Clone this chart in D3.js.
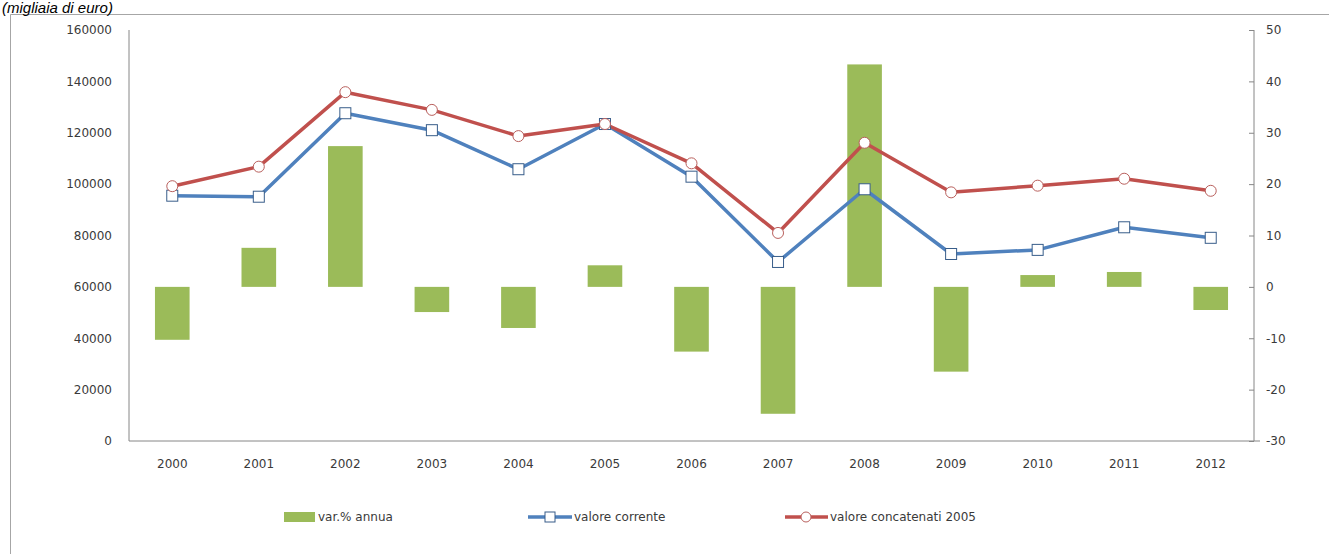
<!DOCTYPE html>
<html>
<head>
<meta charset="utf-8">
<script src="https://cdn.jsdelivr.net/npm/d3@7"></script>
<style>
  body { margin: 0; background: #fff; }
  svg text { font-family: "DejaVu Sans", sans-serif; }
</style>
</head>
<body>
<svg id="chart" width="1329" height="554"></svg>
<script>
// dati
const anni = ["2000","2001","2002","2003","2004","2005","2006","2007","2008","2009","2010","2011","2012"];
const varAnnua = [-10.3, 7.6, 27.4, -4.9, -8.0, 4.2, -12.6, -24.7, 43.3, -16.5, 2.3, 2.9, -4.5];
const valoreCorrente = [95500, 95100, 127600, 121000, 105800, 123400, 102900, 69700, 98000, 72800, 74400, 83200, 79100];
const valoreConcatenati = [99200, 106800, 135800, 128900, 118700, 123400, 108100, 81000, 116100, 96800, 99400, 102100, 97400];
const leftTicks = [0, 20000, 40000, 60000, 80000, 100000, 120000, 140000, 160000];
const rightTicks = [-30, -20, -10, 0, 10, 20, 30, 40, 50];

let svg = d3.select("#chart");
const mLeft = 129, mRight = 1254, mTop = 30, mBottom = 441;

// cornice
svg.append("path")
  .attr("d", "M10.5,554 L10.5,14.5 L1329,14.5")
  .attr("fill", "none")
  .attr("stroke", "#a6a6a6")
  .attr("stroke-width", 1);

svg.append("text")
  .attr("x", 2).attr("y", 13)
  .style("font-family", "'Liberation Sans', sans-serif")
  .style("font-style", "italic")
  .style("font-size", "15px")
  .attr("fill", "#000")
  .text("(migliaia di euro)");

// scale
let x = d3.scaleBand().domain(anni).range([mLeft, mRight]).paddingInner(0.6).paddingOuter(0.3);
let yL = d3.scaleLinear().domain([0, 160000]).range([mBottom, mTop]);
let yR = d3.scaleLinear().domain([-30, 50]).range([mBottom, mTop]);
const cx = d => x(d) + x.bandwidth() / 2;

// barre
svg.selectAll("rect.bar").data(anni)
  .join("rect")
  .attr("class", "bar")
  .attr("x", d => x(d))
  .attr("width", x.bandwidth())
  .attr("y", (d, i) => yR(Math.max(0, varAnnua[i])))
  .attr("height", (d, i) => Math.abs(yR(varAnnua[i]) - yR(0)))
  .attr("fill", "#9bbb59");

// assi
let axL = svg.append("g").attr("transform", `translate(${mLeft},0)`)
  .call(d3.axisLeft(yL).tickValues(leftTicks).tickSize(0).tickPadding(17).tickFormat(d => String(d)));
let axR = svg.append("g").attr("transform", `translate(${mRight},0)`)
  .call(d3.axisRight(yR).tickValues(rightTicks).tickSize(-5).tickPadding(12).tickFormat(d => String(d)));
let axB = svg.append("g").attr("transform", `translate(0,${mBottom})`)
  .call(d3.axisBottom(x).tickSize(0).tickPadding(18).tickSizeOuter(0));

[axL, axR, axB].forEach(a => {
  a.select(".domain").attr("stroke", "#868686");
  a.selectAll(".tick line").attr("stroke", "#868686");
  a.selectAll("text").style("font-size", "12px").attr("fill", "#3a3a3a");
});
axL.select(".domain").attr("d", `M0,${mTop}V${mBottom}`);
axR.select(".domain").attr("d", `M0,${mTop}V${mBottom}`);
axB.select(".domain").attr("d", `M${mLeft},0H${mRight + 6}`);

// linee
let lineL = vals => d3.line().x((d, i) => cx(anni[i])).y(d => yL(d))(vals);

svg.append("path").attr("d", lineL(valoreCorrente))
  .attr("fill", "none").attr("stroke", "#4f81bd").attr("stroke-width", 3.5).attr("stroke-linejoin", "round");
svg.append("path").attr("d", lineL(valoreConcatenati))
  .attr("fill", "none").attr("stroke", "#c0504d").attr("stroke-width", 3.5).attr("stroke-linejoin", "round");

svg.selectAll("rect.sq").data(valoreCorrente)
  .join("rect")
  .attr("class", "sq")
  .attr("x", (d, i) => cx(anni[i]) - 5.5)
  .attr("y", d => yL(d) - 5.5)
  .attr("width", 11).attr("height", 11)
  .attr("fill", "#fff")
  .attr("stroke", "#385d8a").attr("stroke-width", 1);

svg.selectAll("circle.pt").data(valoreConcatenati)
  .join("circle")
  .attr("class", "pt")
  .attr("cx", (d, i) => cx(anni[i]))
  .attr("cy", d => yL(d))
  .attr("r", 5.5)
  .attr("fill", "#fff")
  .attr("stroke", "#b9605d").attr("stroke-width", 1);

// legenda
const ly = 517;
let leg = svg.append("g");
leg.append("rect").attr("x", 284).attr("y", ly - 5).attr("width", 31).attr("height", 10).attr("fill", "#9bbb59");
leg.append("text").attr("x", 318).attr("y", ly + 4).style("font-size", "12px").attr("fill", "#3a3a3a").text("var.% annua");

leg.append("line").attr("x1", 528).attr("x2", 572).attr("y1", ly).attr("y2", ly)
  .attr("stroke", "#4f81bd").attr("stroke-width", 3.5);
leg.append("rect").attr("x", 545).attr("y", ly - 5).attr("width", 10).attr("height", 10)
  .attr("fill", "#fff").attr("stroke", "#385d8a");
leg.append("text").attr("x", 574).attr("y", ly + 4).style("font-size", "12px").attr("fill", "#3a3a3a").text("valore corrente");

leg.append("line").attr("x1", 785).attr("x2", 828).attr("y1", ly).attr("y2", ly)
  .attr("stroke", "#c0504d").attr("stroke-width", 3.5);
leg.append("circle").attr("cx", 806).attr("cy", ly).attr("r", 5)
  .attr("fill", "#fff").attr("stroke", "#b9605d");
leg.append("text").attr("x", 830).attr("y", ly + 4).style("font-size", "12px").attr("fill", "#3a3a3a").text("valore concatenati 2005");
</script>
</body>
</html>
